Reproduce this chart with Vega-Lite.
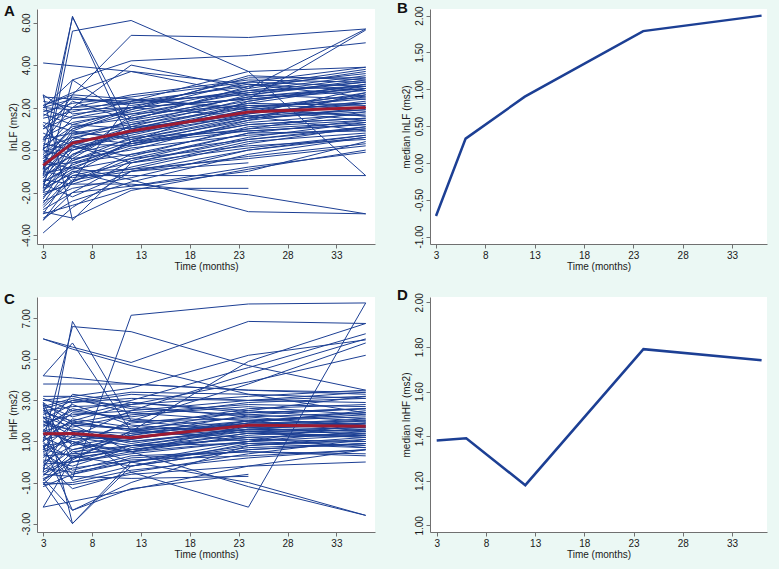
{
"$schema":"https://vega.github.io/schema/vega-lite/v6.json",
"background":"#ebf8f4",
"padding":{"left":3,"top":0,"right":12,"bottom":20},
"bounds":"flush",
"columns":2,
"spacing":{"row":53,"column":55},
"config":{
 "view":{"stroke":null,"fill":"white"},
 "axis":{"domainColor":"#707070","tickColor":"#707070","labelColor":"#1a1a1a","titleColor":"#1a1a1a","labelFont":"Liberation Sans","titleFont":"Liberation Sans","labelFontSize":10,"titleFontSize":10,"titleFontWeight":"normal","grid":false,"tickSize":4,"labelPadding":2,"labelOverlap":false,"labelFlush":false},
 "axisY":{"labelAngle":270,"labelAlign":"center","labelBaseline":"bottom","titlePadding":3},
 "axisX":{"titlePadding":1},
 "title":{"font":"Liberation Sans","fontSize":15,"fontWeight":"bold","color":"#111111","anchor":"start","frame":"bounds","baseline":"alphabetic","offset":-10}
},
"datasets":{
"med":[
{"p":"LF","t":3,"v":-0.72},{"p":"LF","t":6,"v":0.33},{"p":"LF","t":12,"v":0.9},{"p":"LF","t":24,"v":1.79},{"p":"LF","t":36,"v":2.0},
{"p":"HF","t":3,"v":1.38},{"p":"HF","t":6,"v":1.39},{"p":"HF","t":12,"v":1.18},{"p":"HF","t":24,"v":1.79},{"p":"HF","t":36,"v":1.74}],
"lf":[
{"s":1,"t":3,"v":-3.2},{"s":1,"t":6,"v":-2.4},{"s":1,"t":12,"v":-1.5},{"s":1,"t":24,"v":-0.2},{"s":1,"t":36,"v":0.6},
{"s":2,"t":3,"v":-3.0},{"s":2,"t":6,"v":-1.0},{"s":2,"t":12,"v":-0.9},{"s":2,"t":24,"v":0.3},{"s":2,"t":36,"v":1.1},
{"s":3,"t":3,"v":-2.8},{"s":3,"t":6,"v":-2.0},{"s":3,"t":12,"v":-0.5},{"s":3,"t":24,"v":0.8},{"s":3,"t":36,"v":0.9},
{"s":4,"t":3,"v":-2.7},{"s":4,"t":6,"v":-1.4},{"s":4,"t":12,"v":-1.0},{"s":4,"t":24,"v":-0.3},{"s":4,"t":36,"v":0.3},
{"s":5,"t":3,"v":-2.5},{"s":5,"t":6,"v":-0.6},{"s":5,"t":12,"v":0.2},{"s":5,"t":24,"v":1.2},{"s":5,"t":36,"v":1.5},
{"s":6,"t":3,"v":-2.4},{"s":6,"t":6,"v":-1.8},{"s":6,"t":12,"v":-1.3},{"s":6,"t":24,"v":0.0},{"s":6,"t":36,"v":0.7},
{"s":7,"t":3,"v":-2.3},{"s":7,"t":6,"v":-0.2},{"s":7,"t":12,"v":0.5},{"s":7,"t":24,"v":1.6},{"s":7,"t":36,"v":2.2},
{"s":8,"t":3,"v":-2.2},{"s":8,"t":6,"v":-1.2},{"s":8,"t":12,"v":-0.6},{"s":8,"t":24,"v":0.6},{"s":8,"t":36,"v":1.3},
{"s":9,"t":3,"v":-2.1},{"s":9,"t":6,"v":-1.5},{"s":9,"t":12,"v":-0.2},{"s":9,"t":24,"v":1.0},{"s":9,"t":36,"v":1.8},
{"s":10,"t":3,"v":-2.0},{"s":10,"t":6,"v":0.4},{"s":10,"t":12,"v":0.9},{"s":10,"t":24,"v":2.0},{"s":10,"t":36,"v":2.4},
{"s":11,"t":3,"v":-1.9},{"s":11,"t":6,"v":-1.0},{"s":11,"t":12,"v":-1.7},{"s":11,"t":24,"v":-0.8},{"s":11,"t":36,"v":-0.1},
{"s":12,"t":3,"v":-1.9},{"s":12,"t":6,"v":-0.4},{"s":12,"t":12,"v":0.0},{"s":12,"t":24,"v":1.4},{"s":12,"t":36,"v":2.7},
{"s":13,"t":3,"v":-1.8},{"s":13,"t":6,"v":-1.1},{"s":13,"t":12,"v":0.4},{"s":13,"t":24,"v":2.3},{"s":13,"t":36,"v":3.1},
{"s":14,"t":3,"v":-1.7},{"s":14,"t":6,"v":-0.9},{"s":14,"t":12,"v":-0.4},{"s":14,"t":24,"v":0.2},{"s":14,"t":36,"v":0.5},
{"s":15,"t":3,"v":-1.6},{"s":15,"t":6,"v":0.0},{"s":15,"t":12,"v":0.8},{"s":15,"t":24,"v":1.9},{"s":15,"t":36,"v":1.6},
{"s":16,"t":3,"v":-1.5},{"s":16,"t":6,"v":-0.7},{"s":16,"t":12,"v":0.3},{"s":16,"t":24,"v":0.9},{"s":16,"t":36,"v":1.2},
{"s":17,"t":3,"v":-1.5},{"s":17,"t":6,"v":0.8},{"s":17,"t":12,"v":1.2},{"s":17,"t":24,"v":2.6},{"s":17,"t":36,"v":3.3},
{"s":18,"t":3,"v":-1.4},{"s":18,"t":6,"v":-1.6},{"s":18,"t":12,"v":-0.8},{"s":18,"t":24,"v":0.4},{"s":18,"t":36,"v":0.8},
{"s":19,"t":3,"v":-1.3},{"s":19,"t":6,"v":-0.2},{"s":19,"t":12,"v":1.0},{"s":19,"t":24,"v":2.1},{"s":19,"t":36,"v":2.0},
{"s":20,"t":3,"v":-1.3},{"s":20,"t":6,"v":0.2},{"s":20,"t":12,"v":-0.3},{"s":20,"t":24,"v":1.1},{"s":20,"t":36,"v":1.4},
{"s":21,"t":3,"v":-1.2},{"s":21,"t":6,"v":-0.5},{"s":21,"t":12,"v":0.6},{"s":21,"t":24,"v":1.7},{"s":21,"t":36,"v":2.9},
{"s":22,"t":3,"v":-1.1},{"s":22,"t":6,"v":0.5},{"s":22,"t":12,"v":1.4},{"s":22,"t":24,"v":3.0},{"s":22,"t":36,"v":3.6},
{"s":23,"t":3,"v":-1.1},{"s":23,"t":6,"v":-0.8},{"s":23,"t":12,"v":0.1},{"s":23,"t":24,"v":0.7},{"s":23,"t":36,"v":1.0},
{"s":24,"t":3,"v":-1.0},{"s":24,"t":6,"v":0.1},{"s":24,"t":12,"v":0.9},{"s":24,"t":24,"v":1.8},{"s":24,"t":36,"v":2.2},
{"s":25,"t":3,"v":-1.0},{"s":25,"t":6,"v":-1.3},{"s":25,"t":12,"v":-0.9},{"s":25,"t":24,"v":-0.4},{"s":25,"t":36,"v":0.2},
{"s":26,"t":3,"v":-0.9},{"s":26,"t":6,"v":0.9},{"s":26,"t":12,"v":0.5},{"s":26,"t":24,"v":1.5},{"s":26,"t":36,"v":1.9},
{"s":27,"t":3,"v":-0.9},{"s":27,"t":6,"v":-0.3},{"s":27,"t":12,"v":1.6},{"s":27,"t":24,"v":2.8},{"s":27,"t":36,"v":3.0},
{"s":28,"t":3,"v":-0.8},{"s":28,"t":6,"v":0.3},{"s":28,"t":12,"v":0.2},{"s":28,"t":24,"v":1.3},{"s":28,"t":36,"v":1.7},
{"s":29,"t":3,"v":-0.7},{"s":29,"t":6,"v":0.6},{"s":29,"t":12,"v":1.1},{"s":29,"t":24,"v":2.4},{"s":29,"t":36,"v":2.8},
{"s":30,"t":3,"v":-0.7},{"s":30,"t":6,"v":-0.6},{"s":30,"t":12,"v":-0.2},{"s":30,"t":24,"v":0.5},{"s":30,"t":36,"v":1.1},
{"s":31,"t":3,"v":-0.6},{"s":31,"t":6,"v":1.2},{"s":31,"t":12,"v":1.9},{"s":31,"t":24,"v":3.2},{"s":31,"t":36,"v":3.9},
{"s":32,"t":3,"v":-0.5},{"s":32,"t":6,"v":0.0},{"s":32,"t":12,"v":0.7},{"s":32,"t":24,"v":1.9},{"s":32,"t":36,"v":2.5},
{"s":33,"t":3,"v":-0.5},{"s":33,"t":6,"v":-0.9},{"s":33,"t":12,"v":0.4},{"s":33,"t":24,"v":1.0},{"s":33,"t":36,"v":1.3},
{"s":34,"t":3,"v":-0.4},{"s":34,"t":6,"v":0.7},{"s":34,"t":12,"v":1.3},{"s":34,"t":24,"v":2.2},{"s":34,"t":36,"v":2.1},
{"s":35,"t":3,"v":-0.3},{"s":35,"t":6,"v":0.2},{"s":35,"t":12,"v":-0.6},{"s":35,"t":24,"v":0.1},{"s":35,"t":36,"v":0.7},
{"s":36,"t":3,"v":-0.2},{"s":36,"t":6,"v":1.0},{"s":36,"t":12,"v":1.7},{"s":36,"t":24,"v":2.7},{"s":36,"t":36,"v":3.2},
{"s":37,"t":3,"v":-0.1},{"s":37,"t":6,"v":0.4},{"s":37,"t":12,"v":0.8},{"s":37,"t":24,"v":1.6},{"s":37,"t":36,"v":1.9},
{"s":38,"t":3,"v":0.0},{"s":38,"t":6,"v":-0.4},{"s":38,"t":12,"v":1.2},{"s":38,"t":24,"v":2.0},{"s":38,"t":36,"v":2.6},
{"s":39,"t":3,"v":0.0},{"s":39,"t":6,"v":1.5},{"s":39,"t":12,"v":2.0},{"s":39,"t":24,"v":3.4},{"s":39,"t":36,"v":3.4},
{"s":40,"t":3,"v":0.1},{"s":40,"t":6,"v":0.6},{"s":40,"t":12,"v":0.3},{"s":40,"t":24,"v":1.2},{"s":40,"t":36,"v":1.5},
{"s":41,"t":3,"v":0.2},{"s":41,"t":6,"v":1.1},{"s":41,"t":12,"v":1.5},{"s":41,"t":24,"v":2.5},{"s":41,"t":36,"v":3.0},
{"s":42,"t":3,"v":0.3},{"s":42,"t":6,"v":0.0},{"s":42,"t":12,"v":0.9},{"s":42,"t":24,"v":1.7},{"s":42,"t":36,"v":2.3},
{"s":43,"t":3,"v":0.4},{"s":43,"t":6,"v":2.0},{"s":43,"t":12,"v":2.2},{"s":43,"t":24,"v":3.1},{"s":43,"t":36,"v":2.8},
{"s":44,"t":3,"v":0.5},{"s":44,"t":6,"v":0.8},{"s":44,"t":12,"v":0.6},{"s":44,"t":24,"v":0.9},{"s":44,"t":36,"v":1.2},
{"s":45,"t":3,"v":0.6},{"s":45,"t":6,"v":1.3},{"s":45,"t":12,"v":1.8},{"s":45,"t":24,"v":2.9},{"s":45,"t":36,"v":3.7},
{"s":46,"t":3,"v":0.8},{"s":46,"t":6,"v":0.2},{"s":46,"t":12,"v":1.1},{"s":46,"t":24,"v":1.5},{"s":46,"t":36,"v":1.8},
{"s":47,"t":3,"v":1.0},{"s":47,"t":6,"v":1.6},{"s":47,"t":12,"v":2.3},{"s":47,"t":24,"v":2.6},{"s":47,"t":36,"v":2.4},
{"s":48,"t":3,"v":1.1},{"s":48,"t":6,"v":2.3},{"s":48,"t":12,"v":1.4},{"s":48,"t":24,"v":2.3},{"s":48,"t":36,"v":3.1},
{"s":49,"t":3,"v":1.3},{"s":49,"t":6,"v":0.9},{"s":49,"t":12,"v":1.9},{"s":49,"t":24,"v":3.5},{"s":49,"t":36,"v":3.3},
{"s":50,"t":3,"v":1.5},{"s":50,"t":6,"v":1.8},{"s":50,"t":12,"v":2.4},{"s":50,"t":24,"v":2.0},{"s":50,"t":36,"v":1.6},
{"s":51,"t":3,"v":1.6},{"s":51,"t":6,"v":2.5},{"s":51,"t":12,"v":2.1},{"s":51,"t":24,"v":2.8},{"s":51,"t":36,"v":3.5},
{"s":52,"t":3,"v":1.7},{"s":52,"t":6,"v":1.2},{"s":52,"t":12,"v":1.0},{"s":52,"t":24,"v":1.8},{"s":52,"t":36,"v":2.7},
{"s":53,"t":3,"v":1.8},{"s":53,"t":6,"v":2.2},{"s":53,"t":12,"v":2.5},{"s":53,"t":24,"v":3.2},{"s":53,"t":36,"v":3.0},
{"s":54,"t":3,"v":1.9},{"s":54,"t":6,"v":1.5},{"s":54,"t":12,"v":1.7},{"s":54,"t":24,"v":2.1},{"s":54,"t":36,"v":2.2},
{"s":55,"t":3,"v":2.0},{"s":55,"t":6,"v":2.4},{"s":55,"t":12,"v":2.3},{"s":55,"t":24,"v":3.0},{"s":55,"t":36,"v":3.8},
{"s":56,"t":3,"v":2.0},{"s":56,"t":6,"v":1.9},{"s":56,"t":12,"v":2.0},{"s":56,"t":24,"v":2.4},{"s":56,"t":36,"v":2.9},
{"s":57,"t":3,"v":2.1},{"s":57,"t":6,"v":2.6},{"s":57,"t":12,"v":2.4},{"s":57,"t":24,"v":1.9},{"s":57,"t":36,"v":1.4},
{"s":58,"t":3,"v":2.3},{"s":58,"t":6,"v":2.0},{"s":58,"t":12,"v":2.6},{"s":58,"t":24,"v":3.3},{"s":58,"t":36,"v":3.2},
{"s":59,"t":3,"v":2.5},{"s":59,"t":6,"v":2.4},{"s":59,"t":12,"v":2.2},{"s":59,"t":24,"v":2.7},{"s":59,"t":36,"v":3.4},
{"s":60,"t":3,"v":2.6},{"s":60,"t":6,"v":1.7},{"s":60,"t":12,"v":2.0},{"s":60,"t":24,"v":1.6},{"s":60,"t":36,"v":0.9},
{"s":61,"t":3,"v":-2.9},{"s":61,"t":6,"v":-3.2},{"s":61,"t":12,"v":-1.9},{"s":61,"t":24,"v":-0.9},{"s":61,"t":36,"v":0.0},
{"s":62,"t":3,"v":-3.3},{"s":62,"t":6,"v":-2.0},{"s":62,"t":12,"v":-1.7},{"s":62,"t":24,"v":-1.0},{"s":62,"t":36,"v":0.4},
{"s":63,"t":3,"v":-1.6},{"s":63,"t":6,"v":-2.2},{"s":63,"t":12,"v":-1.0},{"s":63,"t":24,"v":0.0},{"s":63,"t":36,"v":0.6},
{"s":64,"t":3,"v":-0.2},{"s":64,"t":6,"v":-1.5},{"s":64,"t":12,"v":-0.4},{"s":64,"t":24,"v":0.8},{"s":64,"t":36,"v":1.4},
{"s":65,"t":3,"v":1.2},{"s":65,"t":6,"v":-0.5},{"s":65,"t":12,"v":0.4},{"s":65,"t":24,"v":1.4},{"s":65,"t":36,"v":2.0},
{"s":101,"t":3,"v":-1.2},{"s":101,"t":6,"v":5.6},{"s":101,"t":12,"v":6.1},{"s":101,"t":24,"v":3.7},{"s":101,"t":36,"v":-1.2},
{"s":102,"t":3,"v":-0.9},{"s":102,"t":6,"v":6.3},{"s":102,"t":12,"v":0.3},{"s":102,"t":24,"v":1.5},{"s":102,"t":36,"v":2.6},
{"s":103,"t":3,"v":0.0},{"s":103,"t":6,"v":6.25},{"s":103,"t":12,"v":1.0},{"s":103,"t":24,"v":2.2},{"s":103,"t":36,"v":3.0},
{"s":104,"t":3,"v":0.5},{"s":104,"t":6,"v":2.6},{"s":104,"t":12,"v":5.4},{"s":104,"t":24,"v":5.3},{"s":104,"t":36,"v":5.7},
{"s":105,"t":3,"v":4.1},{"s":105,"t":12,"v":3.7},{"s":105,"t":24,"v":2.6},{"s":105,"t":36,"v":3.2},
{"s":106,"t":3,"v":2.0},{"s":106,"t":6,"v":3.3},{"s":106,"t":12,"v":4.2},{"s":106,"t":24,"v":4.45},{"s":106,"t":36,"v":5.05},
{"s":107,"t":3,"v":1.0},{"s":107,"t":12,"v":4.0},{"s":107,"t":24,"v":2.9},{"s":107,"t":36,"v":5.7},
{"s":108,"t":3,"v":-0.4},{"s":108,"t":6,"v":1.0},{"s":108,"t":12,"v":2.0},{"s":108,"t":24,"v":2.4},{"s":108,"t":36,"v":5.65},
{"s":109,"t":3,"v":-1.5},{"s":109,"t":6,"v":-0.8},{"s":109,"t":12,"v":-1.4},{"s":109,"t":24,"v":-2.9},{"s":109,"t":36,"v":-3.0},
{"s":110,"t":3,"v":-2.0},{"s":110,"t":6,"v":-1.6},{"s":110,"t":12,"v":-1.6},{"s":110,"t":24,"v":-2.1},{"s":110,"t":36,"v":-3.0},
{"s":111,"t":3,"v":-3.9},{"s":111,"t":6,"v":-2.7},{"s":111,"t":12,"v":-1.0},{"s":111,"t":24,"v":-0.6},
{"s":112,"t":3,"v":-3.0},{"s":112,"t":6,"v":-2.6},{"s":112,"t":12,"v":-1.8},{"s":112,"t":24,"v":-1.8},
{"s":113,"t":3,"v":-2.6},{"s":113,"t":6,"v":-1.2},{"s":113,"t":12,"v":-1.2},{"s":113,"t":24,"v":-1.2},{"s":113,"t":36,"v":-1.2},
{"s":114,"t":3,"v":-1.8},{"s":114,"t":6,"v":3.3},{"s":114,"t":12,"v":1.5},{"s":114,"t":24,"v":2.5},{"s":114,"t":36,"v":2.9},
{"s":115,"t":3,"v":2.6},{"s":115,"t":6,"v":-3.3},{"s":115,"t":12,"v":-0.6},{"s":115,"t":24,"v":0.5},{"s":115,"t":36,"v":1.0},
{"s":116,"t":3,"v":2.1},{"s":116,"t":6,"v":2.7},{"s":116,"t":12,"v":3.7},{"s":116,"t":24,"v":3.1},{"s":116,"t":36,"v":2.5},
{"s":117,"t":3,"v":-3.3},{"s":117,"t":6,"v":-1.5},{"s":117,"t":12,"v":2.3},{"s":117,"t":24,"v":3.7},{"s":117,"t":36,"v":3.9}
],
"hf":[
{"s":1,"t":3,"v":-1.2},{"s":1,"t":6,"v":-0.6},{"s":1,"t":12,"v":0.2},{"s":1,"t":24,"v":0.5},{"s":1,"t":36,"v":0.3},
{"s":2,"t":3,"v":-1.1},{"s":2,"t":6,"v":0.3},{"s":2,"t":12,"v":-0.2},{"s":2,"t":24,"v":0.9},{"s":2,"t":36,"v":1.0},
{"s":3,"t":3,"v":-1.0},{"s":3,"t":6,"v":-1.1},{"s":3,"t":12,"v":-0.6},{"s":3,"t":24,"v":-0.2},{"s":3,"t":36,"v":0.0},
{"s":4,"t":3,"v":-0.9},{"s":4,"t":6,"v":0.5},{"s":4,"t":12,"v":0.8},{"s":4,"t":24,"v":1.5},{"s":4,"t":36,"v":1.7},
{"s":5,"t":3,"v":-0.8},{"s":5,"t":6,"v":-0.3},{"s":5,"t":12,"v":0.1},{"s":5,"t":24,"v":0.3},{"s":5,"t":36,"v":0.6},
{"s":6,"t":3,"v":-0.7},{"s":6,"t":6,"v":0.9},{"s":6,"t":12,"v":0.5},{"s":6,"t":24,"v":1.8},{"s":6,"t":36,"v":2.1},
{"s":7,"t":3,"v":-0.6},{"s":7,"t":6,"v":-0.7},{"s":7,"t":12,"v":-0.8},{"s":7,"t":24,"v":-0.7},
{"s":8,"t":3,"v":-0.5},{"s":8,"t":6,"v":0.2},{"s":8,"t":12,"v":0.6},{"s":8,"t":24,"v":1.2},{"s":8,"t":36,"v":1.3},
{"s":9,"t":3,"v":-0.4},{"s":9,"t":6,"v":0.6},{"s":9,"t":12,"v":1.1},{"s":9,"t":24,"v":2.0},{"s":9,"t":36,"v":2.3},
{"s":10,"t":3,"v":-0.3},{"s":10,"t":6,"v":-0.5},{"s":10,"t":12,"v":0.0},{"s":10,"t":24,"v":0.7},{"s":10,"t":36,"v":0.9},
{"s":11,"t":3,"v":-0.2},{"s":11,"t":6,"v":1.3},{"s":11,"t":12,"v":1.0},{"s":11,"t":24,"v":1.6},{"s":11,"t":36,"v":1.5},
{"s":12,"t":3,"v":-0.1},{"s":12,"t":6,"v":0.0},{"s":12,"t":12,"v":0.4},{"s":12,"t":24,"v":1.0},{"s":12,"t":36,"v":1.9},
{"s":13,"t":3,"v":0.0},{"s":13,"t":6,"v":0.8},{"s":13,"t":12,"v":1.3},{"s":13,"t":24,"v":2.3},{"s":13,"t":36,"v":2.6},
{"s":14,"t":3,"v":0.1},{"s":14,"t":6,"v":-0.2},{"s":14,"t":12,"v":0.7},{"s":14,"t":24,"v":1.4},{"s":14,"t":36,"v":1.2},
{"s":15,"t":3,"v":0.2},{"s":15,"t":6,"v":1.5},{"s":15,"t":12,"v":0.9},{"s":15,"t":24,"v":1.7},{"s":15,"t":36,"v":2.0},
{"s":16,"t":3,"v":0.3},{"s":16,"t":6,"v":0.4},{"s":16,"t":12,"v":1.5},{"s":16,"t":24,"v":2.5},{"s":16,"t":36,"v":3.2},
{"s":17,"t":3,"v":0.4},{"s":17,"t":6,"v":-0.4},{"s":17,"t":12,"v":0.3},{"s":17,"t":24,"v":0.5},{"s":17,"t":36,"v":0.4},
{"s":18,"t":3,"v":0.5},{"s":18,"t":6,"v":1.1},{"s":18,"t":12,"v":1.2},{"s":18,"t":24,"v":1.9},{"s":18,"t":36,"v":1.8},
{"s":19,"t":3,"v":0.6},{"s":19,"t":6,"v":0.3},{"s":19,"t":12,"v":0.8},{"s":19,"t":24,"v":0.9},{"s":19,"t":36,"v":0.7},
{"s":20,"t":3,"v":0.7},{"s":20,"t":6,"v":1.8},{"s":20,"t":12,"v":1.6},{"s":20,"t":24,"v":2.2},{"s":20,"t":36,"v":2.4},
{"s":21,"t":3,"v":0.8},{"s":21,"t":6,"v":1.0},{"s":21,"t":12,"v":0.5},{"s":21,"t":24,"v":1.3},{"s":21,"t":36,"v":1.6},
{"s":22,"t":3,"v":0.9},{"s":22,"t":6,"v":0.2},{"s":22,"t":12,"v":1.4},{"s":22,"t":24,"v":1.8},{"s":22,"t":36,"v":1.9},
{"s":23,"t":3,"v":1.0},{"s":23,"t":6,"v":2.1},{"s":23,"t":12,"v":1.7},{"s":23,"t":24,"v":2.6},{"s":23,"t":36,"v":2.8},
{"s":24,"t":3,"v":1.1},{"s":24,"t":6,"v":1.4},{"s":24,"t":12,"v":1.0},{"s":24,"t":24,"v":1.5},{"s":24,"t":36,"v":1.4},
{"s":25,"t":3,"v":1.2},{"s":25,"t":6,"v":0.6},{"s":25,"t":12,"v":1.3},{"s":25,"t":24,"v":2.0},{"s":25,"t":36,"v":2.2},
{"s":26,"t":3,"v":1.3},{"s":26,"t":6,"v":2.4},{"s":26,"t":12,"v":2.2},{"s":26,"t":24,"v":2.9},{"s":26,"t":36,"v":3.1},
{"s":27,"t":3,"v":1.4},{"s":27,"t":6,"v":1.2},{"s":27,"t":12,"v":0.8},{"s":27,"t":24,"v":1.1},{"s":27,"t":36,"v":1.0},
{"s":28,"t":3,"v":1.5},{"s":28,"t":6,"v":1.9},{"s":28,"t":12,"v":1.6},{"s":28,"t":24,"v":1.7},{"s":28,"t":36,"v":1.6},
{"s":29,"t":3,"v":1.6},{"s":29,"t":6,"v":0.9},{"s":29,"t":12,"v":1.9},{"s":29,"t":24,"v":2.4},{"s":29,"t":36,"v":2.6},
{"s":30,"t":3,"v":1.7},{"s":30,"t":6,"v":2.6},{"s":30,"t":12,"v":2.0},{"s":30,"t":24,"v":2.1},{"s":30,"t":36,"v":1.8},
{"s":31,"t":3,"v":1.8},{"s":31,"t":6,"v":1.6},{"s":31,"t":12,"v":1.2},{"s":31,"t":24,"v":1.6},{"s":31,"t":36,"v":1.5},
{"s":32,"t":3,"v":1.9},{"s":32,"t":6,"v":2.3},{"s":32,"t":12,"v":2.5},{"s":32,"t":24,"v":3.0},{"s":32,"t":36,"v":3.4},
{"s":33,"t":3,"v":2.0},{"s":33,"t":6,"v":1.3},{"s":33,"t":12,"v":1.1},{"s":33,"t":24,"v":1.9},{"s":33,"t":36,"v":2.0},
{"s":34,"t":3,"v":2.1},{"s":34,"t":6,"v":2.8},{"s":34,"t":12,"v":1.8},{"s":34,"t":24,"v":1.4},{"s":34,"t":36,"v":1.3},
{"s":35,"t":3,"v":2.2},{"s":35,"t":6,"v":1.7},{"s":35,"t":12,"v":2.3},{"s":35,"t":24,"v":2.7},{"s":35,"t":36,"v":2.3},
{"s":36,"t":3,"v":2.3},{"s":36,"t":6,"v":3.0},{"s":36,"t":12,"v":2.7},{"s":36,"t":24,"v":2.2},{"s":36,"t":36,"v":1.7},
{"s":37,"t":3,"v":2.4},{"s":37,"t":6,"v":2.0},{"s":37,"t":12,"v":1.5},{"s":37,"t":24,"v":1.2},{"s":37,"t":36,"v":0.7},
{"s":38,"t":3,"v":2.5},{"s":38,"t":6,"v":2.7},{"s":38,"t":12,"v":2.8},{"s":38,"t":24,"v":3.2},{"s":38,"t":36,"v":3.5},
{"s":39,"t":3,"v":2.6},{"s":39,"t":6,"v":1.5},{"s":39,"t":12,"v":1.4},{"s":39,"t":24,"v":1.9},{"s":39,"t":36,"v":2.5},
{"s":40,"t":3,"v":2.7},{"s":40,"t":6,"v":3.1},{"s":40,"t":12,"v":2.4},{"s":40,"t":24,"v":2.0},{"s":40,"t":36,"v":1.5},
{"s":41,"t":3,"v":2.8},{"s":41,"t":6,"v":2.2},{"s":41,"t":12,"v":2.9},{"s":41,"t":24,"v":2.5},{"s":41,"t":36,"v":2.1},
{"s":42,"t":3,"v":2.9},{"s":42,"t":6,"v":1.9},{"s":42,"t":12,"v":1.6},{"s":42,"t":24,"v":1.0},{"s":42,"t":36,"v":0.8},
{"s":43,"t":3,"v":3.0},{"s":43,"t":6,"v":2.9},{"s":43,"t":12,"v":3.1},{"s":43,"t":24,"v":3.0},{"s":43,"t":36,"v":2.9},
{"s":44,"t":3,"v":3.1},{"s":44,"t":6,"v":2.5},{"s":44,"t":12,"v":2.1},{"s":44,"t":24,"v":1.7},{"s":44,"t":36,"v":1.3},
{"s":45,"t":3,"v":3.2},{"s":45,"t":6,"v":3.2},{"s":45,"t":12,"v":2.6},{"s":45,"t":24,"v":2.3},{"s":45,"t":36,"v":2.0},
{"s":46,"t":3,"v":-1.1},{"s":46,"t":6,"v":-1.0},{"s":46,"t":12,"v":-0.4},{"s":46,"t":24,"v":0.2},{"s":46,"t":36,"v":0.6},
{"s":47,"t":3,"v":0.0},{"s":47,"t":6,"v":-1.3},{"s":47,"t":12,"v":-0.5},{"s":47,"t":24,"v":0.4},{"s":47,"t":36,"v":1.1},
{"s":48,"t":3,"v":1.0},{"s":48,"t":6,"v":-0.6},{"s":48,"t":12,"v":0.0},{"s":48,"t":24,"v":0.8},{"s":48,"t":36,"v":1.2},
{"s":49,"t":3,"v":2.2},{"s":49,"t":6,"v":0.4},{"s":49,"t":12,"v":0.6},{"s":49,"t":24,"v":1.4},{"s":49,"t":36,"v":1.7},
{"s":50,"t":3,"v":-0.3},{"s":50,"t":6,"v":1.9},{"s":50,"t":12,"v":2.4},{"s":50,"t":24,"v":2.8},{"s":50,"t":36,"v":2.7},
{"s":51,"t":3,"v":0.6},{"s":51,"t":6,"v":2.9},{"s":51,"t":12,"v":3.3},{"s":51,"t":24,"v":3.0},{"s":51,"t":36,"v":3.2},
{"s":52,"t":3,"v":1.5},{"s":52,"t":6,"v":3.3},{"s":52,"t":12,"v":2.9},{"s":52,"t":24,"v":2.4},{"s":52,"t":36,"v":2.6},
{"s":53,"t":3,"v":2.9},{"s":53,"t":6,"v":0.0},{"s":53,"t":12,"v":0.8},{"s":53,"t":24,"v":1.6},{"s":53,"t":36,"v":1.9},
{"s":54,"t":3,"v":-0.9},{"s":54,"t":6,"v":0.0},{"s":54,"t":12,"v":0.5},{"s":54,"t":24,"v":1.0},{"s":54,"t":36,"v":1.5},
{"s":55,"t":3,"v":1.4},{"s":55,"t":6,"v":-0.9},{"s":55,"t":12,"v":-0.2},{"s":55,"t":24,"v":0.6},{"s":55,"t":36,"v":0.9},
{"s":56,"t":3,"v":2.6},{"s":56,"t":6,"v":3.0},{"s":56,"t":12,"v":3.4},{"s":56,"t":24,"v":3.3},{"s":56,"t":36,"v":3.1},
{"s":101,"t":3,"v":0.5},{"s":101,"t":6,"v":-0.8},{"s":101,"t":12,"v":7.15},{"s":101,"t":24,"v":7.7},{"s":101,"t":36,"v":7.75},
{"s":102,"t":3,"v":2.0},{"s":102,"t":6,"v":1.5},{"s":102,"t":12,"v":-0.5},{"s":102,"t":24,"v":-2.2},{"s":102,"t":36,"v":7.75},
{"s":103,"t":3,"v":6.0},{"s":103,"t":6,"v":5.6},{"s":103,"t":12,"v":4.85},{"s":103,"t":24,"v":6.85},{"s":103,"t":36,"v":6.75},
{"s":104,"t":3,"v":1.0},{"s":104,"t":6,"v":6.6},{"s":104,"t":12,"v":6.35},{"s":104,"t":24,"v":4.7},{"s":104,"t":36,"v":3.5},
{"s":105,"t":3,"v":-0.5},{"s":105,"t":6,"v":6.85},{"s":105,"t":12,"v":2.0},{"s":105,"t":24,"v":1.5},{"s":105,"t":36,"v":1.2},
{"s":106,"t":3,"v":4.2},{"s":106,"t":6,"v":5.8},{"s":106,"t":12,"v":1.5},{"s":106,"t":24,"v":2.0},{"s":106,"t":36,"v":2.4},
{"s":107,"t":3,"v":-1.0},{"s":107,"t":6,"v":-3.0},{"s":107,"t":12,"v":0.0},{"s":107,"t":24,"v":1.0},{"s":107,"t":36,"v":1.3},
{"s":108,"t":3,"v":0.8},{"s":108,"t":6,"v":-2.35},{"s":108,"t":12,"v":-1.3},{"s":108,"t":24,"v":-0.6},
{"s":109,"t":3,"v":-2.2},{"s":109,"t":24,"v":-0.2},{"s":109,"t":36,"v":0.6},
{"s":110,"t":3,"v":1.5},{"s":110,"t":6,"v":1.0},{"s":110,"t":12,"v":0.0},{"s":110,"t":24,"v":-1.0},{"s":110,"t":36,"v":-2.6},
{"s":111,"t":3,"v":2.5},{"s":111,"t":12,"v":0.5},{"s":111,"t":24,"v":-1.2},{"s":111,"t":36,"v":-2.6},
{"s":112,"t":3,"v":4.2},{"s":112,"t":6,"v":4.1},{"s":112,"t":12,"v":3.8},{"s":112,"t":24,"v":3.5},{"s":112,"t":36,"v":3.3},
{"s":113,"t":3,"v":3.8},{"s":113,"t":12,"v":3.8},{"s":113,"t":24,"v":3.5},{"s":113,"t":36,"v":3.4},
{"s":114,"t":3,"v":6.0},{"s":114,"t":6,"v":5.5},{"s":114,"t":12,"v":4.7},{"s":114,"t":24,"v":3.3},{"s":114,"t":36,"v":2.4},
{"s":115,"t":3,"v":1.8},{"s":115,"t":6,"v":2.5},{"s":115,"t":12,"v":3.0},{"s":115,"t":24,"v":4.6},{"s":115,"t":36,"v":6.25},
{"s":116,"t":3,"v":0.6},{"s":116,"t":6,"v":1.2},{"s":116,"t":12,"v":2.5},{"s":116,"t":24,"v":4.3},{"s":116,"t":36,"v":6.0},
{"s":117,"t":3,"v":2.2},{"s":117,"t":6,"v":0.8},{"s":117,"t":12,"v":2.0},{"s":117,"t":24,"v":3.8},{"s":117,"t":36,"v":5.8},
{"s":118,"t":3,"v":1.2},{"s":118,"t":6,"v":2.0},{"s":118,"t":12,"v":2.8},{"s":118,"t":24,"v":3.9},{"s":118,"t":36,"v":5.2},
{"s":119,"t":3,"v":-0.6},{"s":119,"t":12,"v":1.5},{"s":119,"t":24,"v":4.9},{"s":119,"t":36,"v":6.75},
{"s":120,"t":3,"v":3.0},{"s":120,"t":6,"v":3.2},{"s":120,"t":12,"v":3.6},{"s":120,"t":24,"v":5.2},{"s":120,"t":36,"v":5.95},
{"s":121,"t":3,"v":-0.8},{"s":121,"t":6,"v":-2.35},{"s":121,"t":12,"v":-1.0},{"s":121,"t":24,"v":0.8},{"s":121,"t":36,"v":1.1},
{"s":122,"t":3,"v":-2.2},{"s":122,"t":6,"v":0.2},{"s":122,"t":12,"v":0.6},{"s":122,"t":24,"v":1.2},{"s":122,"t":36,"v":1.4},
{"s":123,"t":3,"v":2.8},{"s":123,"t":6,"v":-3.0},{"s":123,"t":12,"v":-0.2},{"s":123,"t":24,"v":0.6},{"s":123,"t":36,"v":0.9}
]
},
"concat":[
{"width":338,"height":235,
 "title":{"text":"A","dx":-4},
 "layer":[
  {"data":{"name":"lf"},"mark":{"type":"line","color":"#1c3f94","strokeWidth":1},
   "encoding":{
    "x":{"field":"t","type":"quantitative","scale":{"domain":[2.37,36.95],"nice":false,"zero":false},"axis":{"values":[3,8,13,18,23,28,33],"title":"Time (months)"}},
    "y":{"field":"v","type":"quantitative","scale":{"domain":[-4.42,6.64],"nice":false,"zero":false},"axis":{"values":[-4,-2,0,2,4,6],"labelExpr":"replace(format(datum.value,'.2f'),'\u2212','-')","title":"lnLF (ms2)"}},
    "detail":{"field":"s","type":"nominal"}}},
  {"data":{"name":"med"},"transform":[{"filter":"datum.p==='LF'"}],"mark":{"type":"line","color":"#9e1b32","strokeWidth":3},
   "encoding":{"x":{"field":"t","type":"quantitative"},"y":{"field":"v","type":"quantitative"}}}
 ]},
{"width":337,"height":235,
 "title":{"text":"B","dx":-4},
 "data":{"name":"med"},"transform":[{"filter":"datum.p==='LF'"}],
 "mark":{"type":"line","color":"#1c3f94","strokeWidth":2.5},
 "encoding":{
  "x":{"field":"t","type":"quantitative","scale":{"domain":[2.39,36.55],"nice":false,"zero":false},"axis":{"values":[3,8,13,18,23,28,33],"title":"Time (months)"}},
  "y":{"field":"v","type":"quantitative","scale":{"domain":[-1.1,2.09],"nice":false,"zero":false},"axis":{"values":[-1,-0.5,0,0.5,1,1.5,2],"labelExpr":"replace(format(datum.value,'.2f'),'\u2212','-')","title":"median lnLF (ms2)"}}}},
{"width":338,"height":235,
 "title":{"text":"C","dx":-4},
 "layer":[
  {"data":{"name":"hf"},"mark":{"type":"line","color":"#1c3f94","strokeWidth":1},
   "encoding":{
    "x":{"field":"t","type":"quantitative","scale":{"domain":[2.37,36.95],"nice":false,"zero":false},"axis":{"values":[3,8,13,18,23,28,33],"title":"Time (months)"}},
    "y":{"field":"v","type":"quantitative","scale":{"domain":[-3.41,8.04],"nice":false,"zero":false},"axis":{"values":[-3,-1,1,3,5,7],"labelExpr":"replace(format(datum.value,'.2f'),'\u2212','-')","title":"lnHF (ms2)"}},
    "detail":{"field":"s","type":"nominal"}}},
  {"data":{"name":"med"},"transform":[{"filter":"datum.p==='HF'"}],"mark":{"type":"line","color":"#9e1b32","strokeWidth":3},
   "encoding":{"x":{"field":"t","type":"quantitative"},"y":{"field":"v","type":"quantitative"}}}
 ]},
{"width":337,"height":235,
 "title":{"text":"D","dx":-4},
 "data":{"name":"med"},"transform":[{"filter":"datum.p==='HF'"}],
 "mark":{"type":"line","color":"#1c3f94","strokeWidth":2.5},
 "encoding":{
  "x":{"field":"t","type":"quantitative","scale":{"domain":[2.32,36.55],"nice":false,"zero":false},"axis":{"values":[3,8,13,18,23,28,33],"title":"Time (months)"}},
  "y":{"field":"v","type":"quantitative","scale":{"domain":[0.97,2.024],"nice":false,"zero":false},"axis":{"values":[1,1.2,1.4,1.6,1.8,2],"format":".2f","title":"median lnHF (ms2)"}}}}
]
}
